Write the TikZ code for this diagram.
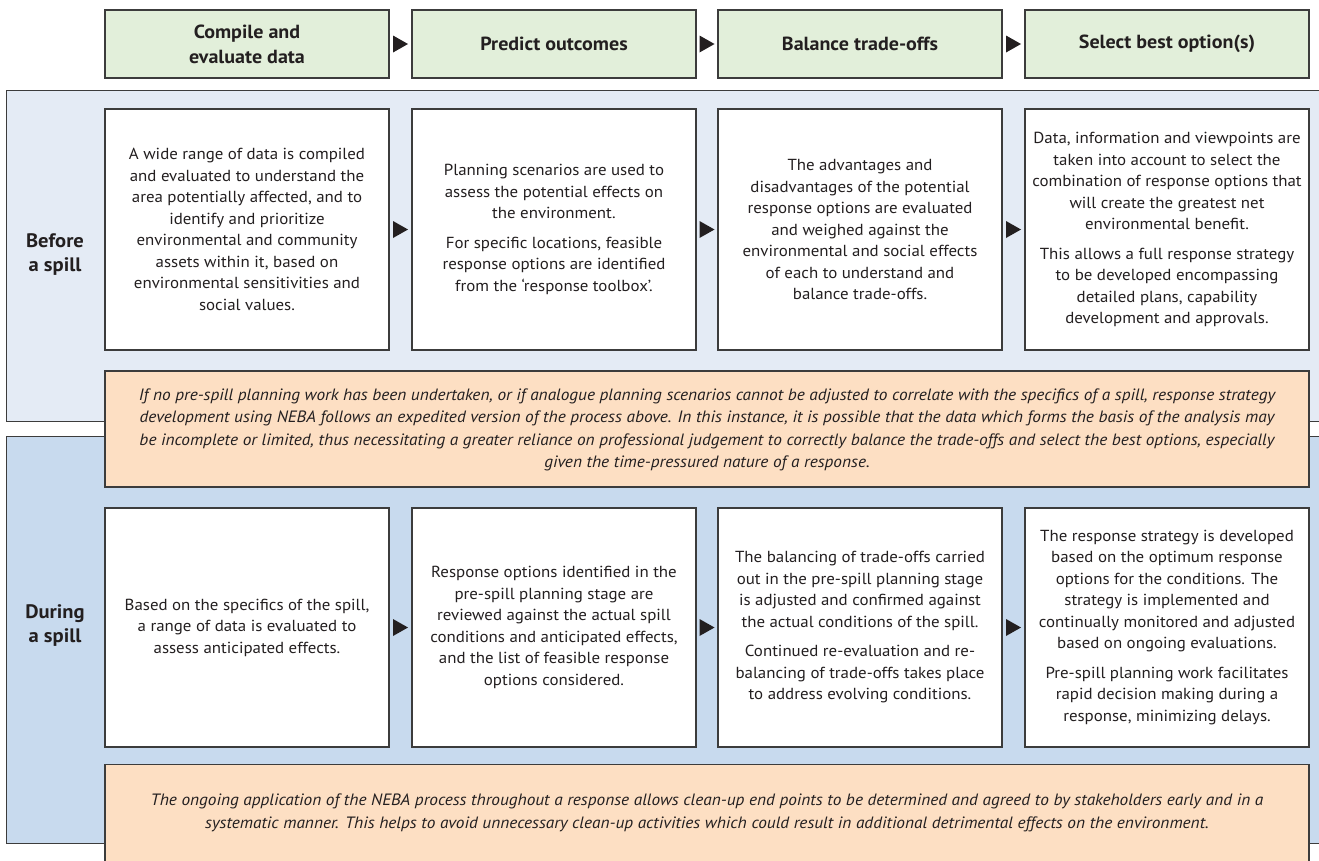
\documentclass[tikz,border=0pt]{standalone}
\usepackage{fontspec}
\setmainfont{PT Sans}[FakeStretch=1.055]
\usetikzlibrary{calc}
\definecolor{bordc}{HTML}{3C3C3C}
\definecolor{txtc}{HTML}{231F20}
\definecolor{hdrc}{HTML}{E2EFDA}
\definecolor{befc}{HTML}{E4EBF5}
\definecolor{durc}{HTML}{C8DAEE}
\definecolor{orc}{HTML}{FDDFC3}
\newcommand\gaptri[2]{\fill[txtc] ($(#1.east)!0.5!(#2.west)$) ++(-7.5,-8.5) -- ++(15,8.5) -- ++(-15,8.5) -- cycle;}
\tikzset{
  box/.style={draw=bordc, line width=1.1pt, minimum width=284pt, inner sep=0pt, align=center, text=txtc},
  hdr/.style={box, fill=hdrc, minimum height=68pt, font=\bfseries\fontsize{19}{25}\selectfont},
  wbox/.style={box, fill=white, font=\fontsize{16}{21.5}\selectfont},
  wbox1/.style={wbox, minimum height=241pt},
  wbox2/.style={wbox, minimum height=239pt},
  obox/.style={box, fill=orc, minimum width=1204pt},
  itxt/.style={align=center, text=txtc, inner sep=0pt, font=\itshape\fontsize{16.4}{22.5}\selectfont},
  panel/.style={draw=bordc, line width=1.1pt, inner sep=0pt, minimum width=1324pt},
  lbl/.style={align=center, text=txtc, inner sep=0pt, font=\bfseries\fontsize{19.5}{24}\selectfont},
}
\begin{document}
\begin{tikzpicture}[x=1pt,y=-1pt]
\useasboundingbox (0,0) rectangle (1319,860);
\clip (0,0) rectangle (1319,860);
\fill[white] (0,0) rectangle (1319,860);
% headers
\node[hdr] (h1) at (247,44) {Compile and\\evaluate data};
\node[hdr] (h2) at (554,44) {Predict outcomes};
\node[hdr] (h3) at (860,44) {Balance trade-offs};
\node[hdr] (h4) at (1167,44) {Select best option(s)};
\gaptri{h1}{h2}
\gaptri{h2}{h3}
\gaptri{h3}{h4}
% panels
\node[panel, fill=befc, minimum height=331pt, anchor=north west] (before) at (6,90) {};
\node[panel, fill=durc, minimum height=407pt, anchor=north west] (during) at (6,436) {};
\node[lbl] (lb) at (55,255) {Before\\a spill};
\node[lbl] (ld) at (55,626) {During\\a spill};
% row 1
\node[wbox1] (a1) at (247,229.5) {A wide range of data is compiled\\and evaluated to understand the\\area potentially affected, and to\\identify and prioritize\\environmental and community\\assets within it, based on\\environmental sensitivities and\\social values.};
\node[wbox1] (a2) at (554,229.5) {Planning scenarios are used to\\assess the potential effects on\\the environment.\\[8pt]For specific locations, feasible\\response options are identified\\from the ‘response toolbox’.};
\node[wbox1] (a3) at (860,229.5) {The advantages and\\disadvantages of the potential\\response options are evaluated\\and weighed against the\\environmental and social effects\\of each to understand and\\balance trade-offs.};
\node[wbox1] (a4) at (1167,229.5) {Data, information and viewpoints are\\taken into account to select the\\combination of response options that\\will create the greatest net\\environmental benefit.\\[8pt]This allows a full response strategy\\to be developed encompassing\\detailed plans, capability\\development and approvals.};
\gaptri{a1}{a2}
\gaptri{a2}{a3}
\gaptri{a3}{a4}
% orange 1
\node[obox, minimum height=116pt] (o1) at (707,429) {};
\node[itxt] (o1t) at (707,430) {If no pre-spill planning work has been undertaken, or if analogue planning scenarios cannot be adjusted to correlate with the specifics of a spill, response strategy\\development using NEBA follows an expedited version of the process above. In this instance, it is possible that the data which forms the basis of the analysis may\\be incomplete or limited, thus necessitating a greater reliance on professional judgement to correctly balance the trade-offs and select the best options, especially\\given the time-pressured nature of a response.};
% row 2
\node[wbox2] (b1) at (247,627.5) {Based on the specifics of the spill,\\a range of data is evaluated to\\assess anticipated effects.};
\node[wbox2] (b2) at (554,627.5) {Response options identified in the\\pre-spill planning stage are\\reviewed against the actual spill\\conditions and anticipated effects,\\and the list of feasible response\\options considered.};
\node[wbox2] (b3) at (860,627.5) {The balancing of trade-offs carried\\out in the pre-spill planning stage\\is adjusted and confirmed against\\the actual conditions of the spill.\\[8pt]Continued re-evaluation and re-\\balancing of trade-offs takes place\\to address evolving conditions.};
\node[wbox2] (b4) at (1167,627.5) {The response strategy is developed\\based on the optimum response\\options for the conditions. The\\strategy is implemented and\\continually monitored and adjusted\\based on ongoing evaluations.\\[8pt]Pre-spill planning work facilitates\\rapid decision making during a\\response, minimizing delays.};
\gaptri{b1}{b2}
\gaptri{b2}{b3}
\gaptri{b3}{b4}
% orange 2
\node[obox, minimum height=112pt, anchor=north] (o2) at (707,764) {};
\node[itxt] (o2t) at (707,813) {The ongoing application of the NEBA process throughout a response allows clean-up end points to be determined and agreed to by stakeholders early and in a\\systematic manner. This helps to avoid unnecessary clean-up activities which could result in additional detrimental effects on the environment.};
\end{tikzpicture}
\end{document}
